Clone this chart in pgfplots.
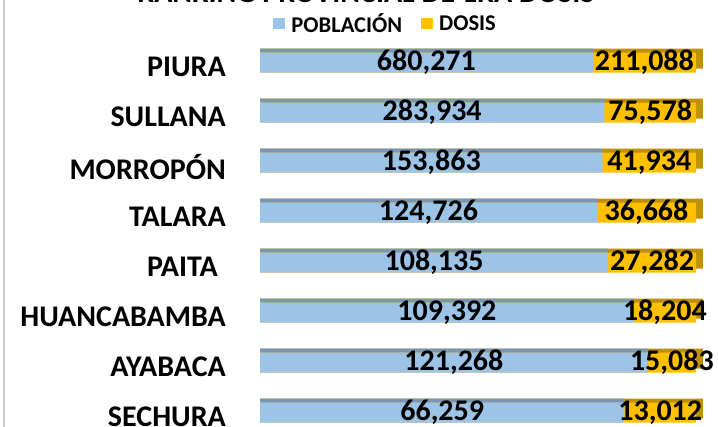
\documentclass[border=0pt]{standalone}
\usepackage{pgfplots}
\usepackage{pgfplotstable}
\pgfplotsset{compat=1.18}
\usepackage{fontspec}
\setmainfont{Carlito}
\definecolor{pobl}{RGB}{157,195,230}
\definecolor{poblTop}{RGB}{120,150,184}
\definecolor{dos}{RGB}{255,192,0}
\definecolor{dosTop}{RGB}{191,144,0}
\pgfplotstableread{
idx pop dos
0 680271 211088
1 283934 75578
2 153863 41934
3 124726 36668
4 108135 27282
5 109392 18204
6 121268 15083
7 66259 13012
}\data
\begin{document}
\begin{tikzpicture}
\begin{axis}[
  at={(260bp,0bp)}, anchor=south west,
  scale only axis, width=436bp, height=427bp,
  xmin=0, xmax=100, ymin=-1.25, ymax=7.29, y dir=reverse,
  enlargelimits=false, clip=false,
  axis line style={draw=none}, major tick length=0pt,
  xtick=\empty, ytick={0,...,7},
  yticklabels={PIURA,SULLANA,MORROPÓN,TALARA,PAITA\hspace*{8bp},HUANCABAMBA,AYABACA,SECHURA},
  yticklabel style={anchor=east, inner sep=0pt, xshift=-34bp, yshift=-4bp,
    font=\fontsize{30bp}{36bp}\selectfont\bfseries},
  legend columns=2,
  legend style={at={(0.287,0.944)}, anchor=center, draw=none, fill=none,
    /tikz/every odd column/.append style={column sep=5bp},
    /tikz/every even column/.append style={column sep=18bp},
    nodes={inner sep=1bp, font=\fontsize{22.5bp}{26bp}\selectfont\bfseries}},
  nodes near coords={\pgfmathprintnumber[fixed,precision=0,1000 sep={,},assume math mode=true]{\pgfplotspointmeta}},
  every node near coord/.append style={anchor=center, font=\fontsize{30bp}{36bp}\selectfont\bfseries, text=black},
]
% 3D top / side faces
\addplot[xbar, bar width=20bp, bar shift=4bp, fill=dosTop, draw=none, forget plot, nodes near coords=]
  table[x expr={101.6+0*\thisrow{pop}}, y=idx]{\data};
\addplot[xbar, bar width=20bp, bar shift=4bp, fill=poblTop, draw=none, forget plot, nodes near coords=]
  table[x expr={100*\thisrow{pop}/(\thisrow{pop}+\thisrow{dos})}, y=idx]{\data};
% front faces
\addplot[xbar, bar width=20bp, bar shift=0bp, fill=dos, draw=none, forget plot, nodes near coords=]
  table[x expr={100+0*\thisrow{pop}}, y=idx]{\data};
\addplot[xbar, bar width=20bp, bar shift=0bp, fill=pobl, draw=none, nodes near coords=,
  legend image code/.code={\fill[pobl] (0bp,-5.5bp) rectangle (12bp,5.5bp);}]
  table[x expr={100*\thisrow{pop}/(\thisrow{pop}+\thisrow{dos})}, y=idx]{\data};
\addlegendentry{POBLACIÓN}
\addplot[draw=none, fill=dos, mark=none, nodes near coords=,
  legend image code/.code={\fill[dos] (0bp,-5.5bp) rectangle (12bp,5.5bp);}]
  coordinates {(-100,-100)};
\addlegendentry{DOSIS}
% value labels
\addplot[draw=none, mark=none, point meta=explicit, forget plot]
  table[x expr={50*\thisrow{pop}/(\thisrow{pop}+\thisrow{dos})}, y=idx, meta=pop]{\data};
\addplot[draw=none, mark=none, point meta=explicit, forget plot]
  table[x expr={50+50*\thisrow{pop}/(\thisrow{pop}+\thisrow{dos})}, y=idx, meta=dos]{\data};
\end{axis}
\draw[black!20, line width=1.5bp] (4bp,0) -- (4bp,427bp);
\node[anchor=base, inner sep=0pt, font=\fontsize{30bp}{36bp}\selectfont\bfseries] at (366bp,424bp) {RANKING PROVINCIAL DE 1RA DOSIS};
\pgfresetboundingbox
\useasboundingbox (0,0) rectangle (718bp,427bp);
\end{tikzpicture}
\end{document}
